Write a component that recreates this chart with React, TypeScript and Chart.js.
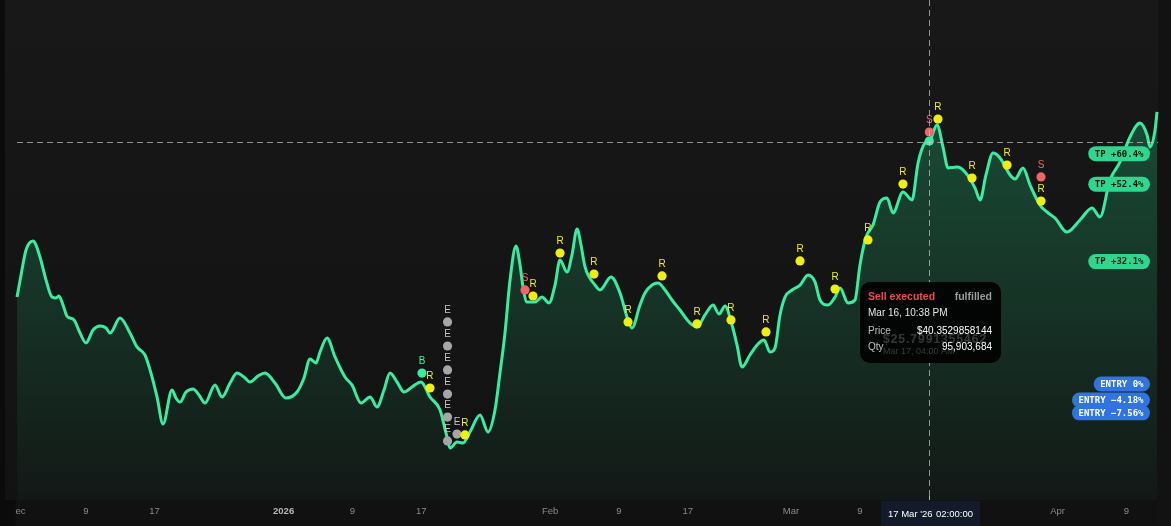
import React, { useEffect, useRef } from 'react';
import { Chart, registerables } from 'chart.js';
Chart.register(...registerables);

// time in days since 1 Dec 2025
const lineDays = [0, 0.47, 1.05, 1.86, 2.67, 3.37, 4.07, 4.53, 4.88, 5.35, 5.81, 6.63, 7.33, 8.02, 8.84, 9.65, 10.35, 10.81, 11.98, 13.14, 13.95, 14.88, 15.47, 16.28, 16.98, 18.02, 18.49, 18.95, 19.65, 20.47, 21.16, 21.86, 23.02, 23.84, 24.77, 25.58, 26.4, 27.09, 28.02, 28.84, 30.0, 31.28, 32.56, 33.37, 34.07, 34.77, 35.23, 36.05, 36.98, 38.14, 38.95, 40.0, 41.05, 41.86, 42.67, 43.37, 44.19, 45.0, 45.93, 46.98, 48.02, 49.19, 49.88, 50.35, 51.16, 51.86, 52.67, 53.84, 54.77, 55.58, 56.16, 56.74, 57.33, 58.02, 58.49, 58.84, 59.3, 60.23, 61.05, 61.86, 62.56, 63.14, 63.95, 64.53, 65.12, 65.58, 66.05, 67.21, 67.79, 69.07, 70.12, 70.93, 71.51, 72.44, 73.02, 73.84, 74.53, 75.35, 76.16, 77.09, 78.26, 79.07, 80.0, 80.93, 81.63, 82.33, 83.14, 83.72, 84.3, 85.23, 86.05, 86.86, 87.56, 88.14, 88.72, 89.3, 90.12, 91.05, 91.98, 92.79, 93.37, 94.3, 95.12, 95.7, 96.63, 97.44, 98.02, 98.72, 99.53, 100.35, 101.16, 101.86, 103.02, 104.07, 104.77, 105.58, 106.16, 106.98, 107.67, 108.26, 109.3, 110.23, 111.4, 111.98, 112.67, 113.49, 114.3, 115.47, 116.05, 116.98, 117.79, 118.95, 119.77, 120.7, 122.09, 123.6, 125.0, 125.93, 127.09, 128.26, 129.42, 130.58, 131.4, 131.74, 132.33, 132.56];
const linePrices = [30.33, 31.76, 33.38, 33.96, 32.93, 31.44, 30.33, 30.27, 30.4, 29.82, 29.1, 28.85, 28.0, 27.36, 28.2, 28.46, 28.33, 28.0, 28.97, 28.0, 27.1, 26.58, 25.61, 23.86, 22.11, 24.31, 23.79, 23.53, 24.18, 24.38, 23.99, 23.47, 24.64, 23.86, 24.76, 25.41, 25.15, 24.83, 25.22, 25.41, 24.76, 23.79, 24.18, 25.09, 26.32, 26.06, 26.77, 27.68, 26.45, 25.15, 24.64, 23.47, 23.86, 23.21, 24.31, 25.41, 24.83, 24.18, 24.51, 24.83, 23.86, 23.02, 21.53, 20.55, 20.94, 20.88, 21.59, 22.69, 21.59, 23.02, 25.41, 28.0, 31.44, 33.64, 32.41, 30.98, 30.01, 30.01, 30.33, 29.95, 31.11, 32.73, 31.95, 33.06, 34.74, 33.7, 32.28, 31.11, 30.79, 31.63, 30.59, 29.04, 28.33, 29.82, 30.59, 31.11, 31.24, 30.79, 30.14, 29.49, 28.65, 28.39, 29.17, 29.82, 29.23, 29.75, 28.52, 27.23, 25.8, 26.58, 27.23, 27.55, 26.77, 27.03, 29.17, 30.33, 30.79, 31.11, 31.76, 31.31, 30.14, 29.82, 30.33, 30.92, 29.95, 30.14, 32.41, 34.22, 35.0, 36.49, 36.75, 35.78, 37.14, 36.62, 39.01, 40.31, 40.5, 41.48, 40.05, 38.69, 38.75, 38.43, 37.39, 36.62, 38.24, 39.66, 39.34, 38.24, 37.98, 38.69, 37.59, 36.29, 35.84, 35.45, 34.54, 35.32, 36.1, 35.52, 37.91, 39.08, 40.7, 41.6, 40.83, 40.05, 41.15, 42.32];

const markerDays = [47.09, 48.02, 50.06, 50.06, 50.06, 50.06, 50.06, 50.06, 51.16, 52.09, 59.07, 60.0, 63.14, 67.09, 71.05, 75.0, 79.07, 83.02, 87.09, 91.05, 95.12, 98.95, 103.02, 106.08, 106.08, 107.09, 111.05, 115.12, 119.07, 119.07];
const markerPrices = [25.41, 24.44, 28.72, 27.16, 25.61, 24.05, 22.56, 21.01, 21.46, 21.4, 30.79, 30.4, 33.18, 31.82, 28.72, 31.7, 28.59, 28.85, 28.07, 32.67, 30.85, 34.03, 37.65, 41.02, 40.44, 41.86, 38.04, 38.88, 38.11, 36.55];
const markerKinds = ['B', 'R', 'E', 'E', 'E', 'E', 'E', 'E', 'E', 'R', 'S', 'R', 'R', 'R', 'R', 'R', 'R', 'R', 'R', 'R', 'R', 'R', 'R', 'S', 'H', 'R', 'R', 'R', 'S', 'R'];

const tickDays = [0, 8, 16, 31, 39, 47, 62, 70, 78, 90, 98, 106, 121, 129];
const tickLabels = ['Dec', '9', '17', '2026', '9', '17', 'Feb', '9', '17', 'Mar', '9', '17', 'Apr', '9'];

const entryPrice = 24.7;
const tpLevels = [60.4, 52.4, 32.1];
const entryLevels = [0, -4.18, -7.56];

const crosshairDay = 106.0833;
const crosshairPrice = 40.3529858144;
const crosshairLabel = ["17 Mar '26", '02:00:00'];
const tooltipLines = {
  title: 'Sell executed',
  status: 'fulfilled',
  time: 'Mar 16, 10:38 PM',
  price: '$40.3529858144',
  qty: '95,903,684',
  ghostPrice: '$25.7991355462',
  ghostTime: 'Mar 17, 04:00 AM',
};

const W = 1171;
const H = 526;
const LINE = '#38eda0';
const kindColor: Record<string, string> = { B: '#38eda0', R: '#eeee10', E: '#a6a6a6', S: '#f06666', H: '#38eda0' };
const letterColor: Record<string, string> = { B: '#38eda0', R: '#eeee10', E: '#c4c4c4', S: '#f06666' };
const SANS = '"Liberation Sans", Arial, sans-serif';
const MONO = '"DejaVu Sans Mono", monospace';

function pill(c: CanvasRenderingContext2D, right: number, cy: number, text: string, bg: string, fg: string) {
  c.font = `bold 9px ${MONO}`;
  const tw = c.measureText(text).width;
  const w = tw + 13;
  const h = 15;
  c.fillStyle = bg;
  c.beginPath();
  c.roundRect(right - w, cy - h / 2, w, h, 7.5);
  c.fill();
  c.fillStyle = fg;
  c.textAlign = 'center';
  c.textBaseline = 'middle';
  c.fillText(text, right - w / 2, cy + 0.5);
}

const bgPlugin = {
  id: 'bgPlugin',
  beforeDraw(chart: any) {
    const c = chart.ctx;
    c.save();
    const g = c.createLinearGradient(0, 0, 0, 500);
    g.addColorStop(0, '#181818');
    g.addColorStop(1, '#121212');
    c.fillStyle = g;
    c.fillRect(0, 0, W, 500);
    c.fillStyle = '#111111';
    c.fillRect(0, 500, W, H - 500);
    c.fillStyle = '#0b0b0b';
    c.fillRect(0, 0, 5, H);
    c.fillStyle = '#121212';
    c.fillRect(1158, 0, W - 1158, H);
    c.restore();
  },
};

const overlayPlugin = {
  id: 'overlayPlugin',
  afterDraw(chart: any) {
    const c: CanvasRenderingContext2D = chart.ctx;
    const xs = chart.scales.x;
    const ys = chart.scales.y;
    c.save();
    // clip the first axis label like the reference
    c.fillStyle = '#0b0b0b';
    c.fillRect(0, 500, 15.5, H - 500);

    // marker letters
    const meta = chart.getDatasetMeta(0);
    meta.data.forEach((pt: any, i: number) => {
      const k = markerKinds[i];
      if (k === 'H') return;
      c.fillStyle = letterColor[k];
      c.font = `10px ${SANS}`;
      c.textAlign = 'center';
      c.textBaseline = 'middle';
      c.fillText(k, pt.x, pt.y - 11.5);
    });

    // crosshair
    const cx = xs.getPixelForValue(crosshairDay);
    const cy = ys.getPixelForValue(crosshairPrice);
    c.strokeStyle = 'rgba(200,200,200,0.7)';
    c.lineWidth = 1;
    c.setLineDash([6, 4]);
    c.beginPath();
    c.moveTo(17, Math.round(cy) + 0.5);
    c.lineTo(1158, Math.round(cy) + 0.5);
    c.moveTo(Math.round(cx) + 0.5, 0);
    c.lineTo(Math.round(cx) + 0.5, 497);
    c.stroke();
    c.setLineDash([]);

    // badges
    tpLevels.forEach((p) => {
      const y = ys.getPixelForValue(entryPrice * (1 + p / 100));
      pill(c, 1150, y, `TP +${p.toFixed(1)}%`, '#2fd68e', '#06140d');
    });
    entryLevels.forEach((p) => {
      const y = ys.getPixelForValue(entryPrice * (1 + p / 100));
      const t = p === 0 ? 'ENTRY 0%' : `ENTRY \u2212${Math.abs(p).toFixed(2)}%`;
      pill(c, 1150, y, t, '#3174e0', '#ffffff');
    });

    // tooltip
    const tx = 860, ty = 282, tw = 141, th = 81;
    c.fillStyle = 'rgba(3,3,3,0.96)';
    c.beginPath();
    c.roundRect(tx, ty, tw, th, 10);
    c.fill();
    c.textBaseline = 'middle';
    c.textAlign = 'left';
    c.fillStyle = 'rgba(255,255,255,0.2)';
    c.font = `bold 12px ${SANS}`;
    (c as any).letterSpacing = '1px';
    c.fillText(tooltipLines.ghostPrice, 883, 340);
    (c as any).letterSpacing = '0px';
    c.font = `9px ${SANS}`;
    c.fillText(tooltipLines.ghostTime, 883, 352);

    c.font = `bold 10.5px ${SANS}`;
    c.fillStyle = '#f04848';
    c.fillText(tooltipLines.title, 868, 297);
    c.fillStyle = '#9c9c9c';
    c.textAlign = 'right';
    c.fillText(tooltipLines.status, 992, 297);
    c.textAlign = 'left';
    c.font = `10px ${SANS}`;
    c.fillStyle = '#e6e6e6';
    c.fillText(tooltipLines.time, 868, 313);
    c.fillStyle = '#c0c0c0';
    c.fillText('Price', 868, 331);
    c.fillText('Qty', 868, 347);
    c.fillStyle = '#ffffff';
    c.textAlign = 'right';
    c.fillText(tooltipLines.price, 992, 331);
    c.fillText(tooltipLines.qty, 992, 347);

    // x crosshair label
    c.fillStyle = '#131b2b';
    c.fillRect(881, 501, 99, H - 501);
    c.fillStyle = '#ffffff';
    c.font = `9.5px ${SANS}`;
    c.textAlign = 'left';
    c.fillText(crosshairLabel[0], 888, 514);
    c.fillText(crosshairLabel[1], 936, 514);
    c.fillStyle = 'rgba(220,220,220,0.8)';
    c.fillRect(Math.round(cx), 496, 1, 4);
    c.restore();
  },
};

export default function App() {
  const ref = useRef<HTMLCanvasElement | null>(null);
  useEffect(() => {
    document.body.style.margin = '0';
    document.body.style.overflow = 'hidden';
    document.body.style.background = '#111';
    const canvas = ref.current!;
    const lineData = lineDays.map((d, i) => ({ x: d, y: linePrices[i] }));
    const markerData = markerDays.map((d, i) => ({ x: d, y: markerPrices[i] }));
    const chart = new Chart(canvas, {
      type: 'line',
      data: {
        datasets: [
          {
            data: markerData,
            showLine: false,
            pointRadius: 4.6,
            pointHoverRadius: 4.6,
            pointBorderWidth: 0,
            pointBackgroundColor: markerKinds.map((k) => kindColor[k]),
            order: 0,
          } as any,
          {
            data: lineData,
            borderColor: LINE,
            borderWidth: 3,
            pointRadius: 0,
            cubicInterpolationMode: 'monotone',
            fill: 'start',
            order: 10,
            backgroundColor: (ctx: any) => {
              const ch = ctx.chart;
              const area = ch.chartArea;
              if (!area) return 'rgba(30,170,110,0.2)';
              const g = ch.ctx.createLinearGradient(0, area.top + 100, 0, area.bottom);
              g.addColorStop(0, 'rgba(30,170,110,0.36)');
              g.addColorStop(1, 'rgba(30,170,110,0.04)');
              return g;
            },
          } as any,
        ],
      },
      options: {
        animation: false,
        responsive: false,
        maintainAspectRatio: false,
        layout: { padding: 0 },
        plugins: { legend: { display: false }, tooltip: { enabled: false } },
        events: [],
        scales: {
          x: {
            type: 'linear',
            min: -1.442,
            max: 133.65,
            grid: { display: false, drawTicks: false, tickLength: 0 },
            border: { display: false },
            afterFit: (scale: any) => {
              scale.height = 26;
              scale.paddingLeft = 0;
              scale.paddingRight = 0;
            },
            afterBuildTicks: (scale: any) => {
              scale.ticks = tickDays.map((v) => ({ value: v }));
            },
            ticks: {
              autoSkip: false,
              maxRotation: 0,
              padding: 6,
              callback: (v: any) => {
                const i = tickDays.indexOf(Number(v));
                return i >= 0 ? tickLabels[i] : '';
              },
              color: (ctx: any) => (tickLabels[ctx.index] === '2026' ? '#b8b8b8' : '#8a8a8a'),
              font: (ctx: any) => ({
                family: SANS,
                size: 9.5,
                weight: tickLabels[ctx.index] === '2026' ? 'bold' : 'normal',
              }),
            },
          },
          y: {
            type: 'linear',
            display: false,
            min: 17.187,
            max: 49.273,
          },
        },
      },
      plugins: [bgPlugin, overlayPlugin],
    } as any);
    return () => chart.destroy();
  }, []);
  return <canvas ref={ref} width={W} height={H} style={{ display: 'block', width: W, height: H }} />;
}
